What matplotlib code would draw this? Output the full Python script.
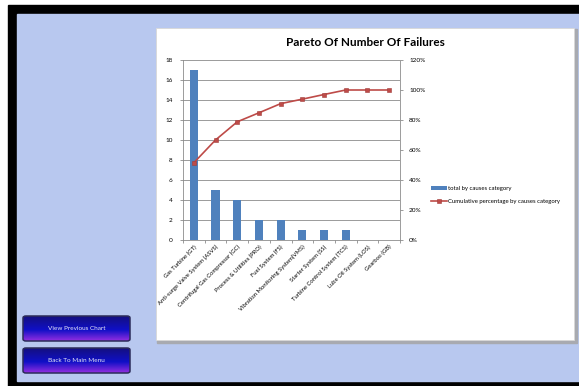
import matplotlib.pyplot as plt
from matplotlib.patches import Rectangle, FancyBboxPatch
import numpy as np

categories = ["Gas Turbine (GT)", "Anti-surge Valve System (ASVS)",
              "Centrifugal Gas Compressor (GC)", "Process & Utilities (PRO)",
              "Fuel System (FS)", "Vibration Monitoring System(VMS)",
              "Starter System (SS)", "Turbine Control System (TCS)",
              "Lube Oil System (LOS)", "Gearbox (GB)"]
failures = [17, 5, 4, 2, 2, 1, 1, 1, 0, 0]
cum_pct = [51.5, 66.7, 78.8, 84.8, 90.9, 93.9, 97.0, 100.0, 100.0, 100.0]
buttons = ["View Previous Chart", "Back To Main Menu"]

plt.rcParams['font.family'] = ['Lato', 'DejaVu Sans']

W, H = 579, 386
fig = plt.figure(figsize=(W / 100, H / 100), dpi=100)
fig.patch.set_facecolor('white')


def px(x, y, w, h):
    # pixel box (top-left origin) -> figure fraction
    return (x / W, 1 - (y + h) / H, w / W, h / H)


# black frame and light blue page
fr = px(8, 5, W + 10 - 8, H - 5)
fig.patches.append(Rectangle(fr[:2], fr[2], fr[3], transform=fig.transFigure,
                             color='black', zorder=0))
bx = px(17, 14, W + 10 - 17, 381 - 14)
fig.patches.append(Rectangle(bx[:2], bx[2], bx[3], transform=fig.transFigure,
                             color='#b8c8ef', zorder=1))

# white chart panel with a soft edge
sh = px(157, 29, 420, 314)
fig.patches.append(Rectangle(sh[:2], sh[2], sh[3], transform=fig.transFigure,
                             color='#a8aab0', zorder=2))
pn = px(156, 28, 418, 312)
fig.patches.append(Rectangle(pn[:2], pn[2], pn[3], transform=fig.transFigure,
                             facecolor='white', edgecolor='#d8d8d8', lw=0.6, zorder=3))

# buttons: dark blue face fading to purple at the bottom
g = np.linspace(0, 1, 64)[:, None, None]
c_top = np.array([0.08, 0.06, 0.50])
c_mid = np.array([0.06, 0.06, 0.78])
c_bot = np.array([0.58, 0.18, 0.88])
img = np.where(g < 0.55, c_top + (c_mid - c_top) * g / 0.55,
               c_mid + (c_bot - c_mid) * (g - 0.55) / 0.45)
for i, label in enumerate(buttons):
    b = px(23, 316 + i * 32, 107, 25)
    bax = fig.add_axes(b, zorder=4)
    bax.imshow(img, aspect='auto', extent=[0, 1, 0, 1], origin='upper')
    bax.set_xlim(0, 1)
    bax.set_ylim(0, 1)
    bax.axis('off')
    fig.patches.append(FancyBboxPatch(b[:2], b[2], b[3], boxstyle='round,pad=0,rounding_size=0.005',
                                      transform=fig.transFigure, facecolor='none',
                                      edgecolor='#2c2c5a', lw=1.1, zorder=5))
    fig.text(b[0] + b[2] / 2, b[1] + b[3] / 2, label, color='#e8e8f4', fontsize=4.6,
             ha='center', va='center', zorder=6)

# main pareto axes
ax = fig.add_axes(px(183, 60, 217, 180), zorder=5)
ax.set_facecolor('none')
x = np.arange(len(categories))
bars = ax.bar(x, failures, width=0.38, color='#4f81bd', zorder=3,
              label='total by causes category')
ax.set_xlim(-0.5, len(categories) - 0.5)
ax.set_ylim(0, 18)
ax.set_yticks(np.arange(0, 19, 2))
ax.grid(axis='y', color='#9a9a9a', lw=0.7, zorder=0)
ax.set_xticks(x)
ax.set_xticklabels(categories, rotation=45, ha='right', rotation_mode='anchor', fontsize=4.2)
ax.set_xticks(np.arange(-0.5, len(categories), 1), minor=True)
ax.tick_params(axis='x', which='major', length=0, pad=3)
ax.tick_params(axis='x', which='minor', length=2.5, color='#8c8c8c', width=0.6)
ax.tick_params(axis='y', labelsize=4.6, length=2.5, color='#8c8c8c', width=0.6, pad=5)
for s in ['top', 'right']:
    ax.spines[s].set_visible(False)
for s in ['left', 'bottom']:
    ax.spines[s].set_color('#8c8c8c')
    ax.spines[s].set_linewidth(0.6)

ax2 = ax.twinx()
line, = ax2.plot(x, cum_pct, color='#be4b48', lw=1.2, marker='s', markersize=3.2,
                 markerfacecolor='#be4b48', markeredgecolor='#a03c3a', markeredgewidth=0.4,
                 zorder=4, label='Cumulative percentage by causes category')
ax2.set_ylim(0, 120)
ax2.set_yticks(np.arange(0, 121, 20))
ax2.set_yticklabels([f'{v}%' for v in range(0, 121, 20)])
ax2.tick_params(axis='y', labelsize=4.6, length=2.5, color='#8c8c8c', width=0.6, pad=4)
for s in ['top', 'left', 'bottom']:
    ax2.spines[s].set_visible(False)
ax2.spines['right'].set_color('#8c8c8c')
ax2.spines['right'].set_linewidth(0.6)

fig.text(365 / W, 1 - 42 / H, 'Pareto Of Number Of Failures', fontsize=8.5,
         fontweight='bold', ha='center', va='center', zorder=6)

fig.legend([bars, line], ['total by causes category', 'Cumulative percentage by causes category'],
           loc='center left', bbox_to_anchor=(426 / W, 1 - 195 / H), fontsize=4.3,
           frameon=False, handlelength=2.6, handletextpad=0.2, labelspacing=1.4)

fig.savefig('out.png', dpi=100)
